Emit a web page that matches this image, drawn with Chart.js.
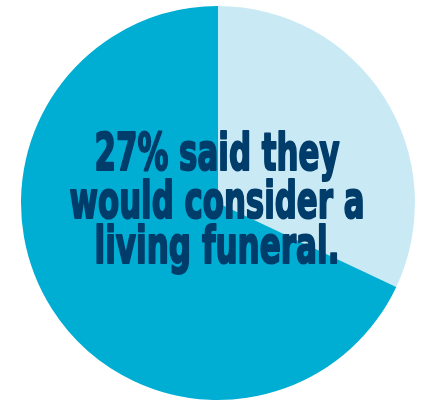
<!DOCTYPE html>
<html><head><meta charset="utf-8">
<script src="https://cdn.jsdelivr.net/npm/chart.js@4"></script>
<style>html,body{margin:0;padding:0;background:#fff;}#wrap{width:427px;height:401px;position:relative;}</style>
</head><body><div id="wrap"><canvas id="c" width="427" height="401"></canvas></div>
<script>
const categories = ["Would consider a living funeral", "Would not"];
const values = [32, 68];
const textLines = ["27% said they", "would consider a", "living funeral."];

const colors = ["#c9eaf4", "#00aed3"];

const centerText = {
  id: 'centerText',
  afterDraw(chart) {
    const ctx = chart.ctx;
    const widths = [247, 297, 247];
    const baselines = [170, 218, 263];
    const cx = 217;
    textLines.forEach((t, i) => {
      ctx.save();
      ctx.fillStyle = '#003d6b';
      ctx.strokeStyle = '#003d6b';
      ctx.lineWidth = 1.6;
      ctx.lineJoin = 'round';
      ctx.font = 'bold 40px "DejaVu Sans Condensed", "DejaVu Sans", sans-serif';
      ctx.textAlign = 'center';
      ctx.textBaseline = 'alphabetic';
      ctx.translate(cx, baselines[i]);
      ctx.scale(1, 1.3);
      ctx.fillText(t, 0, 0, widths[i] - 2);
      ctx.strokeText(t, 0, 0, widths[i] - 2);
      ctx.restore();
    });
  }
};

new Chart(document.getElementById('c'), {
  type: 'pie',
  data: { labels: categories, datasets: [{ data: values, backgroundColor: colors, borderWidth: 0 }] },
  options: {
    responsive: false,
    animation: false,
    layout: { padding: { left: 21, right: 12, top: 6, bottom: 1 } },
    plugins: { legend: { display: false }, tooltip: { enabled: false } }
  },
  plugins: [centerText]
});
</script></body></html>
